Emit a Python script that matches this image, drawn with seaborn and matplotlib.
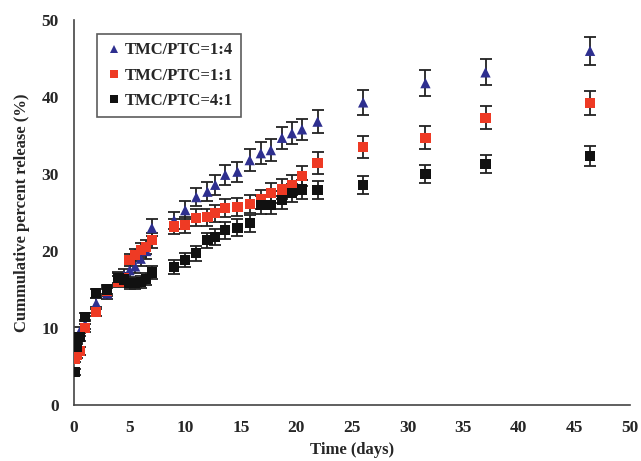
import matplotlib
matplotlib.use("Agg")
import matplotlib.pyplot as plt
import seaborn as sns
import pandas as pd

# sampling times (days)
time_days = [0.08, 0.25, 0.5, 1, 2, 3, 4, 4.5, 5, 5.5, 6, 6.5, 7, 9, 10, 11, 12,
             12.7, 13.6, 14.7, 15.8, 16.8, 17.7, 18.7, 19.6, 20.5, 21.9,
             26, 31.6, 37, 46.4]

# cumulative release (%)
rel_1_4 = [6.5, 7.5, 9.5, 10.5, 13.2, 14.5, 16.5, 16.8, 17.5, 18.0, 19.0, 20.0, 23.0,
           24.0, 25.3, 27.0, 27.7, 28.6, 29.9, 30.3, 31.8, 32.7, 33.1, 34.7, 35.3,
           35.8, 36.8, 39.3, 41.8, 43.2, 46.0]
rel_1_1 = [6.0, 6.5, 7.0, 10.0, 12.1, 14.8, 16.0, 16.5, 18.8, 19.5, 20.1, 20.5, 21.4,
           23.2, 23.4, 24.3, 24.4, 24.9, 25.6, 25.7, 26.1, 26.7, 27.5, 28.0, 28.6,
           29.7, 31.4, 33.5, 34.7, 37.3, 39.2]
rel_4_1 = [4.3, 7.5, 8.8, 11.4, 14.5, 15.0, 16.5, 16.3, 15.8, 15.8, 16.0, 16.4, 17.2,
           17.9, 18.8, 19.7, 21.4, 21.8, 22.7, 23.0, 23.6, 26.0, 26.0, 26.6, 27.5,
           28.0, 27.9, 28.6, 30.0, 31.3, 32.3]

# error bars (SD, %)
err_1_4 = [0.5, 0.5, 0.6, 0.6, 0.7, 0.7, 0.8, 0.8, 0.9, 0.9, 1.0, 1.0, 1.1,
           1.1, 1.2, 1.2, 1.2, 1.3, 1.3, 1.3, 1.4, 1.4, 1.4, 1.4, 1.4,
           1.4, 1.5, 1.6, 1.7, 1.7, 1.8]
err_1_1 = [0.4, 0.4, 0.5, 0.5, 0.6, 0.6, 0.7, 0.7, 0.8, 0.8, 0.9, 0.9, 1.0,
           1.0, 1.0, 1.1, 1.1, 1.1, 1.2, 1.2, 1.2, 1.2, 1.3, 1.3, 1.3,
           1.3, 1.4, 1.4, 1.5, 1.5, 1.6]
err_4_1 = [0.4, 0.4, 0.5, 0.5, 0.6, 0.6, 0.6, 0.7, 0.7, 0.7, 0.8, 0.8, 0.8,
           0.9, 0.9, 1.0, 1.0, 1.0, 1.1, 1.1, 1.1, 1.2, 1.2, 1.2, 1.2,
           1.2, 1.2, 1.2, 1.2, 1.2, 1.3]

labels = ["TMC/PTC=1:4", "TMC/PTC=1:1", "TMC/PTC=4:1"]

frames = []
for lab, vals, errs in zip(labels, [rel_1_4, rel_1_1, rel_4_1], [err_1_4, err_1_1, err_4_1]):
    frames.append(pd.DataFrame({"time": time_days, "release": vals, "err": errs, "ratio": lab}))
df = pd.concat(frames, ignore_index=True)

sns.set_style("white")
plt.rcParams["font.family"] = ["Liberation Serif", "DejaVu Serif"]
plt.rcParams["font.weight"] = "bold"

fig = plt.figure(figsize=(6.41, 4.61), dpi=100)
ax = fig.add_axes([0.1154, 0.1215, 0.8676, 0.8351])

palette = {"TMC/PTC=1:4": "#2e2f8f", "TMC/PTC=1:1": "#ee3a24", "TMC/PTC=4:1": "#111111"}
markers = {"TMC/PTC=1:4": "^", "TMC/PTC=1:1": "s", "TMC/PTC=4:1": "s"}

# error bars first, drawn in black
for lab, sub in df.groupby("ratio", sort=False):
    ax.errorbar(sub["time"], sub["release"], yerr=sub["err"], fmt="none",
                ecolor="#222222", elinewidth=1.3, capsize=4, capthick=1.3, zorder=2)

sns.scatterplot(data=df, x="time", y="release", hue="ratio", style="ratio",
                palette=palette, markers=markers, s=55, linewidth=0,
                ax=ax, zorder=3)

ax.set_xlim(0, 50)
ax.set_ylim(0, 50)
ax.set_xticks(range(0, 51, 5))
ax.set_yticks(range(0, 51, 10))
ax.tick_params(direction="in", length=5, width=1, labelsize=12.5, color="#333333")
ax.tick_params(axis="x", pad=11)
ax.tick_params(axis="y", pad=11)
for lbl in ax.get_xticklabels() + ax.get_yticklabels():
    lbl.set_fontweight("bold")

ax.set_xlabel("Time (days)", fontsize=12, fontweight="bold", labelpad=4)
ax.set_ylabel("Cummulative percent release (%)", fontsize=12, fontweight="bold", labelpad=8)

sns.despine(ax=ax)
for side in ["left", "bottom"]:
    ax.spines[side].set_color("#444444")
    ax.spines[side].set_linewidth(1.2)

leg = ax.legend(loc="upper left", bbox_to_anchor=(0.027, 0.985), frameon=True, fancybox=False,
                edgecolor="#333333", fontsize=12, handletextpad=0.15, borderpad=0.5,
                labelspacing=0.55, handlelength=1.0, markerscale=0.75)
leg.get_frame().set_linewidth(1.2)
for t in leg.get_texts():
    t.set_fontweight("bold")

fig.savefig("out.png", dpi=100)
